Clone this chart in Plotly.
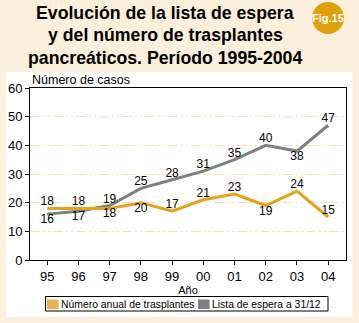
import plotly.graph_objects as go

# Data
years = ["95", "96", "97", "98", "99", "00", "01", "02", "03", "04"]
trasplantes = [18, 18, 18, 20, 17, 21, 23, 19, 24, 15]
lista_espera = [16, 17, 19, 25, 28, 31, 35, 40, 38, 47]
pos_trasplantes = ["top center", "top center", "bottom center", "bottom center", "top center",
                   "top center", "top center", "bottom center", "top center", "top center"]
pos_lista = ["bottom center", "bottom center", "top center", "top center", "top center",
             "top center", "top center", "top center", "bottom center", "top center"]
y_ticks = [0, 10, 20, 30, 40, 50, 60]
title_lines = ["Evolución de la lista de espera",
               "y del número de trasplantes",
               "pancreáticos. Período 1995-2004"]
legend_names = ["Número anual de trasplantes", "Lista de espera a 31/12"]

ORANGE = "#e4a11b"
ORANGE_LEG = "#ebb450"
GRAY = "#7f7f7f"
CREAM = "#fcefdc"
FONT = "Liberation Sans, Arial, sans-serif"

W, H = 359, 323
L, R, T, B = 30, 13, 88, 63
pw, ph = W - L - R, H - T - B


def px(x):
    return (x - L) / pw


def py(y):
    return (H - B - y) / ph


x_idx = list(range(len(years)))

fig = go.Figure()
fig.add_trace(go.Scatter(
    x=x_idx, y=lista_espera, mode="lines+text", name=legend_names[1],
    line=dict(color=GRAY, width=3),
    text=[str(v) for v in lista_espera], textposition=pos_lista,
    textfont=dict(size=12, color="black", family=FONT),
    showlegend=False, cliponaxis=False,
))
fig.add_trace(go.Scatter(
    x=x_idx, y=trasplantes, mode="lines+text", name=legend_names[0],
    line=dict(color=ORANGE, width=3),
    text=[str(v) for v in trasplantes], textposition=pos_trasplantes,
    textfont=dict(size=12, color="black", family=FONT),
    showlegend=False, cliponaxis=False,
))

shapes = [
    # white panel behind the chart
    dict(type="rect", xref="paper", yref="paper", layer="below",
         x0=px(6), x1=px(353), y0=py(317), y1=py(72),
         fillcolor="white", line=dict(width=0)),
    # figure badge
    dict(type="circle", xref="paper", yref="paper",
         x0=px(312), x1=px(344), y0=py(34), y1=py(2),
         fillcolor="#e0a00c", line=dict(width=0)),
    # legend frame and swatches
    dict(type="rect", xref="paper", yref="paper",
         x0=px(45.5), x1=px(328), y0=py(311), y1=py(296.5),
         fillcolor="white", line=dict(color="black", width=1)),
    dict(type="rect", xref="paper", yref="paper",
         x0=px(47), x1=px(58.5), y0=py(309), y1=py(299.5),
         fillcolor=ORANGE_LEG, line=dict(width=0)),
    dict(type="rect", xref="paper", yref="paper",
         x0=px(198), x1=px(209.5), y0=py(309), y1=py(299.5),
         fillcolor=GRAY, line=dict(width=0)),
]

annotations = []
for i, (line, yc) in enumerate(zip(title_lines, [13, 35.5, 58])):
    annotations.append(dict(
        text=f"<b>{line}</b>", xref="paper", yref="paper", x=px(165), y=py(yc),
        xanchor="center", yanchor="middle", showarrow=False,
        font=dict(size=17.7, color="black", family=FONT)))

annotations += [
    dict(text="<b>Fig.15</b>", xref="paper", yref="paper", x=px(328), y=py(18),
         xanchor="center", yanchor="middle", showarrow=False,
         font=dict(size=11, color="white", family=FONT)),
    dict(text="Número de casos", xref="paper", yref="paper", x=px(30), y=py(80),
         xanchor="left", yanchor="middle", showarrow=False,
         font=dict(size=12.5, color="black", family=FONT)),
    dict(text=legend_names[0], xref="paper", yref="paper", x=px(59), y=py(304),
         xanchor="left", yanchor="middle", showarrow=False,
         font=dict(size=10.4, color="black", family=FONT)),
    dict(text=legend_names[1], xref="paper", yref="paper", x=px(209.5), y=py(304),
         xanchor="left", yanchor="middle", showarrow=False,
         font=dict(size=10.4, color="black", family=FONT)),
]

fig.update_layout(
    width=W, height=H,
    margin=dict(l=L, r=R, t=T, b=B, autoexpand=False),
    paper_bgcolor=CREAM, plot_bgcolor="white",
    font=dict(family=FONT, color="black", size=12),
    shapes=shapes, annotations=annotations,
    showlegend=False,
    xaxis=dict(range=[-0.55, 9.57], tickvals=x_idx, ticktext=years,
               showgrid=False, zeroline=False, showline=True, mirror=True,
               linecolor="black", linewidth=1, ticks="outside", ticklen=4,
               tickcolor="black", tickfont=dict(size=13),
               title=dict(text="Año", font=dict(size=11), standoff=3)),
    yaxis=dict(range=[0, 60], tickvals=y_ticks, showgrid=True,
               gridcolor="#fbe0b6", griddash="10px,3px,2px,3px,2px,3px", gridwidth=1,
               zeroline=False, showline=True, mirror=True,
               linecolor="black", linewidth=1, ticks="outside", ticklen=4,
               tickcolor="black", tickfont=dict(size=13)),
)

fig.write_html("out.html")
